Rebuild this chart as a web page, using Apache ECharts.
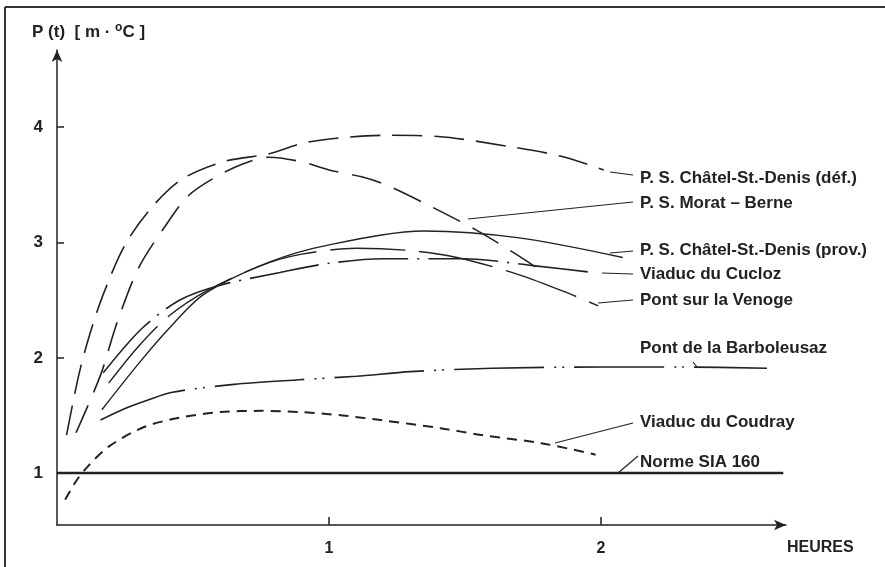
<!DOCTYPE html>
<html>
<head>
<meta charset="utf-8">
<script src="https://cdn.jsdelivr.net/npm/echarts@6/dist/echarts.min.js"></script>
<style>
  html, body { margin: 0; padding: 0; background: #fff; }
  #chart { width: 885px; height: 567px; }
</style>
</head>
<body>
<div id="chart"></div>
<script>
// values: [heures, P(t)]
const chatelDef = [[0.035,1.33],[0.08,1.85],[0.12,2.2],[0.17,2.55],[0.25,2.98],[0.35,3.31],[0.46,3.55],[0.61,3.70],[0.78,3.77],[0.9,3.86],[1.05,3.91],[1.2,3.93],[1.4,3.92],[1.67,3.83],[1.85,3.75],[2.01,3.63]];
const moratBerne = [[0.07,1.35],[0.16,1.85],[0.22,2.3],[0.3,2.78],[0.4,3.15],[0.48,3.4],[0.57,3.55],[0.68,3.68],[0.78,3.74],[0.9,3.7],[1.0,3.63],[1.12,3.57],[1.21,3.5],[1.36,3.33],[1.54,3.11],[1.68,2.91],[1.79,2.74]];
const chatelProv = [[0.165,1.55],[0.3,1.95],[0.41,2.25],[0.54,2.55],[0.78,2.83],[1.0,2.98],[1.35,3.10],[1.7,3.04],[2.08,2.87]];
const cucloz = [[0.17,1.87],[0.31,2.25],[0.45,2.5],[0.6,2.63],[0.82,2.74],[1.0,2.82],[1.2,2.86],[1.5,2.86],[1.75,2.8],[1.97,2.74]];
const venoge = [[0.19,1.78],[0.3,2.1],[0.41,2.36],[0.55,2.58],[0.75,2.8],[0.9,2.9],[1.1,2.95],[1.3,2.93],[1.47,2.87],[1.7,2.72],[1.89,2.55],[1.99,2.45]];
const barboleusaz = [[0.16,1.46],[0.25,1.56],[0.33,1.63],[0.42,1.70],[0.65,1.77],[0.89,1.81],[1.1,1.84],[1.3,1.88],[1.6,1.91],[2.0,1.92],[2.3,1.92],[2.61,1.91]];
const coudray = [[0.03,0.77],[0.07,0.93],[0.11,1.05],[0.19,1.23],[0.32,1.40],[0.45,1.48],[0.6,1.53],[0.75,1.54],[0.89,1.53],[1.05,1.50],[1.19,1.46],[1.41,1.39],[1.56,1.33],[1.78,1.26],[1.98,1.16]];
const normeSia = [[0,1],[2.67,1]];

const xTicks = [1, 2];
const yTicks = [1, 2, 3, 4];

const labelNames = [
  'P. S. Châtel-St.-Denis (déf.)',
  'P. S. Morat – Berne',
  'P. S. Châtel-St.-Denis (prov.)',
  'Viaduc du Cucloz',
  'Pont sur la Venoge',
  'Pont de la Barboleusaz',
  'Viaduc du Coudray',
  'Norme SIA 160'
];

const FONT = '"Liberation Sans", Arial, sans-serif';
const myChart = echarts.init(document.getElementById('chart'));

const line = (name, data, type, width) => ({
  name, type: 'line', data,
  smooth: 0.3,
  symbol: 'none',
  silent: true,
  lineStyle: {color: '#222', width: width || 1.6, type: type || 'solid'}
});

// right-hand labels and leader lines (layout only)
const labelY = [178, 203, 250, 274, 300, 348, 422, 462];
const leaders = [
  [610, 172, 633, 175],
  [468, 219, 633, 202],
  [610, 253, 633, 251],
  [602, 273, 633, 274],
  [598, 303, 633, 300],
  [693, 362, 697, 367],
  [555, 443, 633, 423],
  [618, 473, 638, 456]
];

myChart.setOption({
  backgroundColor: '#fff',
  animation: false,
  grid: {left: 57, right: 99, top: 50, bottom: 42, containLabel: false},
  xAxis: {
    type: 'value', min: 0, max: 2.68,
    splitLine: {show: false},
    axisLine: {onZero: false, symbol: ['none', 'arrow'], symbolSize: [8, 12], lineStyle: {color: '#222', width: 1.5}},
    axisTick: {show: true, inside: true, length: 8, customValues: xTicks, lineStyle: {color: '#222', width: 1.5}},
    axisLabel: {customValues: xTicks, margin: 16, color: '#222', fontFamily: FONT, fontWeight: 'bold', fontSize: 16}
  },
  yAxis: {
    type: 'value', min: 0.55, max: 4.67,
    splitLine: {show: false},
    axisLine: {onZero: false, symbol: ['none', 'arrow'], symbolSize: [8, 12], lineStyle: {color: '#222', width: 1.5}},
    axisTick: {show: true, inside: true, length: 7, customValues: yTicks, lineStyle: {color: '#222', width: 1.5}},
    axisLabel: {customValues: yTicks, margin: 14, color: '#222', fontFamily: FONT, fontWeight: 'bold', fontSize: 17}
  },
  series: [
    line(labelNames[0], chatelDef, [30, 12], 1.6),
    line(labelNames[1], moratBerne, [30, 14], 1.6),
    line(labelNames[2], chatelProv, 'solid', 1.4),
    line(labelNames[3], cucloz, [70, 9, 2, 9], 1.6),
    line(labelNames[4], venoge, [75, 14], 1.4),
    line(labelNames[5], barboleusaz, [90, 10, 2, 6, 2, 10], 1.6),
    line(labelNames[6], coudray, [10, 7], 2),
    line(labelNames[7], normeSia, 'solid', 2.5)
  ],
  graphic: [
    {type: 'line', shape: {x1: 5, y1: 7, x2: 885, y2: 7}, style: {stroke: '#333', lineWidth: 2}},
    {type: 'line', shape: {x1: 5, y1: 7, x2: 5, y2: 567}, style: {stroke: '#333', lineWidth: 2}},
    {
      type: 'text', left: 32, top: 22,
      style: {
        text: 'P (t)  [ m · {sup|o}C ]',
        fill: '#222', font: 'bold 17px ' + FONT,
        rich: {sup: {fontSize: 12, fontWeight: 'bold', fontFamily: FONT, fill: '#222', padding: [0, 0, 9, 0]}}
      }
    },
    {type: 'text', left: 787, top: 540, style: {text: 'HEURES', fill: '#222', font: 'bold 16px ' + FONT}},
    ...labelNames.map((t, i) => ({
      type: 'text', left: 640, top: labelY[i] - 8,
      style: {text: t, fill: '#222', font: 'bold 17px ' + FONT}
    })),
    ...leaders.map(l => ({
      type: 'line', shape: {x1: l[0], y1: l[1], x2: l[2], y2: l[3]},
      style: {stroke: '#222', lineWidth: 1.2}
    }))
  ]
});
</script>
</body>
</html>
